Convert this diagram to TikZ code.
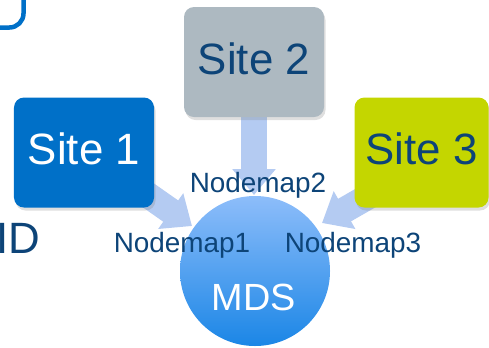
\documentclass[tikz,border=0pt]{standalone}
\usepackage{fontspec}
\setmainfont{Liberation Sans}
\usetikzlibrary{arrows.meta,shadows}
\definecolor{siteone}{HTML}{0070C8}
\definecolor{sitetwo}{HTML}{ADB9C1}
\definecolor{sitethree}{HTML}{C4D600}
\definecolor{navy}{HTML}{0D4478}
\definecolor{arrowblue}{HTML}{B4CBF2}
\definecolor{mdstop}{HTML}{8DBDFA}
\definecolor{mdsbot}{HTML}{1B86E6}
\begin{document}
\begin{tikzpicture}[x=1bp,y=-1bp,
  sitebox/.style={rectangle, rounded corners=10bp, minimum width=140bp, minimum height=110bp,
    inner sep=0pt, text height=32bp, text depth=8bp,
    font=\fontsize{44}{50}\selectfont,
    drop shadow={opacity=0.25, shadow xshift=1.5bp, shadow yshift=-3bp}},
  blockarrow/.style={draw=arrowblue, line width=26bp,
    -{Triangle[width=42bp,length=26bp]}},
  maplabel/.style={anchor=base, inner sep=0pt, text=navy, font=\fontsize{28}{32}\selectfont}]
\useasboundingbox (0,0) rectangle (489,347);
% partial frame top-left
\draw[siteone, line width=4.5bp, rounded corners=14bp] (-30,-30) rectangle (23.5,27.5);
\node[anchor=base west, inner sep=0pt, text=navy, font=\fontsize{44}{50}\selectfont] (id) at (-4,253) {ID};
% arrow targets
\coordinate (t1) at (192,226);
\coordinate (t2) at (254,195);
\coordinate (t3) at (322,223);
\coordinate (s1) at (135,186);
\coordinate (s2) at (254,110);
\coordinate (s3) at (383,188);
\draw[blockarrow] (s1) -- (t1);
\draw[blockarrow] (s2) -- (t2);
\draw[blockarrow] (s3) -- (t3);
% sites
\node[sitebox, fill=siteone, text=white] (site1) at (84,152.5) {Site 1};
\node[sitebox, fill=sitetwo, text=navy] (site2) at (254,62) {Site 2};
\node[sitebox, fill=sitethree, text=navy, minimum width=134bp] (site3) at (421.5,152.5) {Site 3};
% MDS
\node[circle, minimum size=150bp, inner sep=0pt, top color=mdstop, bottom color=mdsbot,
  shading angle=0] (mds) at (255,271) {};
\node[anchor=base, inner sep=0pt, text=white, font=\fontsize{38}{44}\selectfont] (mdslabel) at (254,310) {MDS};
% labels
\node[maplabel] (nm2) at (258,192) {Nodemap2};
\node[maplabel] (nm1) at (182,252) {Nodemap1};
\node[maplabel] (nm3) at (353,252) {Nodemap3};
\end{tikzpicture}
\end{document}
